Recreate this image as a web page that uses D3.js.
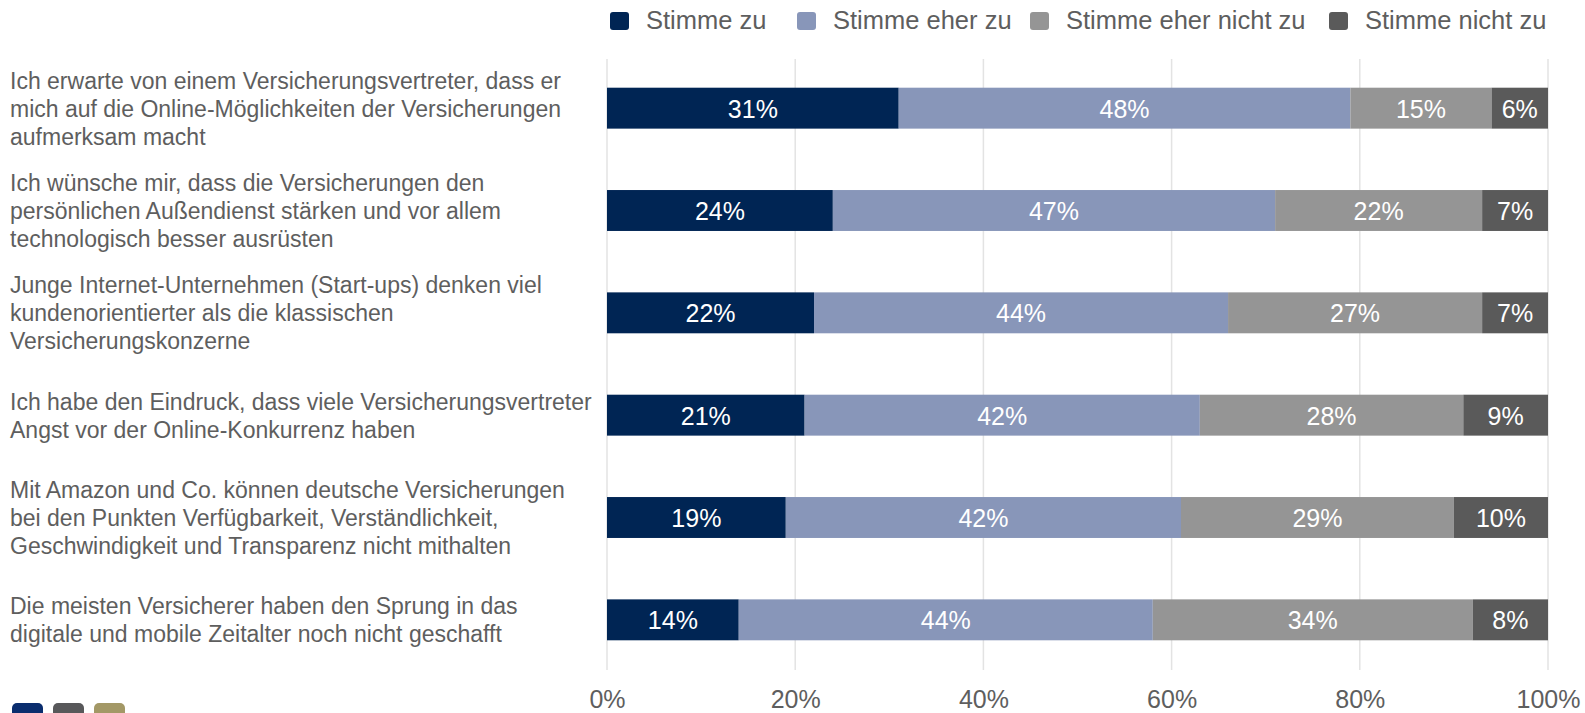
<!DOCTYPE html>
<html><head><meta charset="utf-8">
<script src="https://cdn.jsdelivr.net/npm/d3@7"></script>
<style>
body{margin:0;background:#fff;}
svg{display:block;font-family:"Liberation Sans",Arial,sans-serif;}
</style></head>
<body><svg id="c" width="1585" height="713"></svg>
<script>
const categories = [
  ["Ich erwarte von einem Versicherungsvertreter, dass er","mich auf die Online-Möglichkeiten der Versicherungen","aufmerksam macht"],
  ["Ich wünsche mir, dass die Versicherungen den","persönlichen Außendienst stärken und vor allem","technologisch besser ausrüsten"],
  ["Junge Internet-Unternehmen (Start-ups) denken viel","kundenorientierter als die klassischen","Versicherungskonzerne"],
  ["Ich habe den Eindruck, dass viele Versicherungsvertreter","Angst vor der Online-Konkurrenz haben"],
  ["Mit Amazon und Co. können deutsche Versicherungen","bei den Punkten Verfügbarkeit, Verständlichkeit,","Geschwindigkeit und Transparenz nicht mithalten"],
  ["Die meisten Versicherer haben den Sprung in das","digitale und mobile Zeitalter noch nicht geschafft"]
];
const seriesNames = ["Stimme zu","Stimme eher zu","Stimme eher nicht zu","Stimme nicht zu"];
const stimmeZu = [31,24,22,21,19,14];
const stimmeEherZu = [48,47,44,42,42,44];
const stimmeEherNichtZu = [15,22,27,28,29,34];
const stimmeNichtZu = [6,7,7,9,10,8];
const tickValues = [0,20,40,60,80,100];
const colors = ["#002554","#8896b9","#959595","#5a5a5a"];
const textColor = "#5e5e5e";

const svg = d3.select("#c");
const x = d3.scaleLinear().domain([0,100]).range([607,1548]);
const y = d3.scaleBand().domain(d3.range(categories.length)).range([57,671]).paddingInner(0.6).paddingOuter(0.3);

// gridlines
svg.append("g").selectAll("line").data(tickValues).join("line")
  .attr("x1",d=>x(d)).attr("x2",d=>x(d)).attr("y1",59).attr("y2",670)
  .attr("stroke","#e3e3e3").attr("stroke-width",1.5);

// axis labels
const axis = d3.axisBottom(x).tickValues(tickValues).tickFormat(d=>d+"%").tickSize(0).tickPadding(0);
const ag = svg.append("g").attr("transform","translate(0,708)").call(axis);
ag.select(".domain").remove();
ag.selectAll("text").attr("dy",null).attr("font-size",25).attr("fill",textColor).attr("font-family","Liberation Sans, Arial, sans-serif");

const rows = categories.map((c,i)=>[stimmeZu[i],stimmeEherZu[i],stimmeEherNichtZu[i],stimmeNichtZu[i]]);
const rowG = svg.append("g").selectAll("g").data(rows).join("g");
rowG.each(function(vals,i){
  const g = d3.select(this);
  let acc=0;
  vals.forEach((v,k)=>{
    const x0 = x(acc), x1 = x(acc+v);
    g.append("rect").attr("x",x0).attr("y",y(i)).attr("width",x1-x0).attr("height",y.bandwidth()).attr("fill",colors[k]);
    g.append("text").attr("x",(x0+x1)/2).attr("y",y(i)+y.bandwidth()/2+9.5)
      .attr("text-anchor","middle").attr("fill","#fff").attr("font-size",25).text(v+"%");
    acc+=v;
  });
  const lines = categories[i];
  const cy = y(i)+y.bandwidth()/2;
  const lh = 28;
  g.append("g").selectAll("text").data(lines).join("text")
    .attr("x",10).attr("y",(d,j)=>cy+(j-(lines.length-1)/2)*lh+8.5)
    .attr("font-size",23).attr("fill",textColor).text(d=>d);
});

// legend
const legendX = [610,797,1030,1329];
const lg = svg.append("g").selectAll("g").data(seriesNames).join("g")
  .attr("transform",(d,i)=>`translate(${legendX[i]},12)`);
lg.append("rect").attr("width",19).attr("height",18).attr("rx",3).attr("fill",(d,i)=>colors[i]);
lg.append("text").attr("x",36).attr("y",17).attr("font-size",25.5).attr("fill",textColor).text(d=>d);

// brand squares
const brand = ["#0a2d6e","#58585a","#a39866"];
svg.append("g").selectAll("rect").data(brand).join("rect")
  .attr("x",(d,i)=>12+i*41).attr("y",703).attr("width",31).attr("height",20).attr("rx",5).attr("fill",d=>d);
</script></body></html>
